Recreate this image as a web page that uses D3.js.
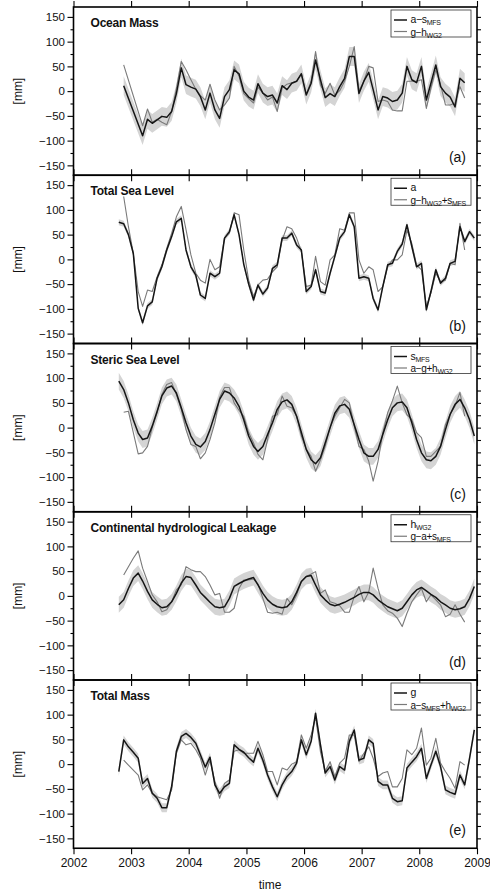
<!DOCTYPE html>
<html><head><meta charset="utf-8">
<script src="https://cdnjs.cloudflare.com/ajax/libs/d3/7.8.5/d3.min.js"></script>
<style>
body{margin:0;background:#fff}
svg{display:block}
text{font-family:"Liberation Sans",Arial,Helvetica,sans-serif;fill:#111}
</style>
</head><body><svg id="c" width="490" height="896"></svg>
<script>
// ---------- DATA ----------
const months = ["2002-10","2002-11","2002-12",
"2003-01","2003-02","2003-03","2003-04","2003-05","2003-06","2003-07","2003-08","2003-09","2003-10","2003-11","2003-12",
"2004-01","2004-02","2004-03","2004-04","2004-05","2004-06","2004-07","2004-08","2004-09","2004-10","2004-11","2004-12",
"2005-01","2005-02","2005-03","2005-04","2005-05","2005-06","2005-07","2005-08","2005-09","2005-10","2005-11","2005-12",
"2006-01","2006-02","2006-03","2006-04","2006-05","2006-06","2006-07","2006-08","2006-09","2006-10","2006-11","2006-12",
"2007-01","2007-02","2007-03","2007-04","2007-05","2007-06","2007-07","2007-08","2007-09","2007-10","2007-11","2007-12",
"2008-01","2008-02","2008-03","2008-04","2008-05","2008-06","2008-07","2008-08","2008-09","2008-10","2008-11","2008-12"];

// (a) Ocean Mass
const oceanA = [null,11,null,
 null,null,-90,-57,-65,-58,-51,-53,-41,-5,47,13,
 8,4,-11,-38,-4,-38,-55,-11,3,43,35,0,
 -12,-18,15,-4,-11,-8,-24,11,3,16,20,35,
 -8,16,63,23,-13,-5,-11,9,26,70,70,-5,
 20,38,3,-38,-11,-14,-21,-18,-4,50,23,17,
 50,-18,16,53,9,-4,-12,-32,26,17,null,null];
const oceanB = [null,53,null,
 null,null,-70,-36,-63,-57,-63,-68,-41,5,60,43,
 23,4,-9,-18,14,-18,-38,-28,-14,50,30,-5,
 -15,-24,8,-4,-18,-12,-41,6,14,17,20,36,
 -6,20,80,12,-5,16,-8,1,20,50,90,1,
 20,50,47,-21,-18,-21,-38,-40,-40,20,20,20,
 23,-35,6,43,13,-28,-28,-24,9,-14,null,null];
// (b) Total Sea Level
const seaA = [75,72,50,
 12,-99,-128,-94,-86,-38,-15,19,46,76,83,19,
 -15,-32,-72,-79,-28,-35,-28,43,56,90,50,-10,
 -50,-82,-52,-70,-58,-18,-11,43,43,53,29,19,
 -65,-55,-21,-65,-68,-28,6,43,56,90,66,-38,
 -35,-38,-79,-102,-55,-11,-8,16,31,70,26,-15,
 -8,-102,-65,-21,-48,-38,-8,-4,66,36,56,43];
const seaB = [null,127,66,
 12,-65,-95,-62,-65,-35,-11,22,53,86,107,60,
 9,-28,-42,-48,0,-21,-15,43,53,94,90,19,
 -42,-75,-52,-42,-40,-25,-15,39,66,62,43,16,
 -55,-52,6,-45,-52,-1,9,62,59,94,94,-1,
 -28,-15,-21,-65,-55,-15,-1,-1,9,59,32,-11,
 -21,-95,-68,-28,-45,-42,-8,-11,73,19,null,null];
// (c) Steric Sea Level
const stericA = [94,77,50,
 16,-11,-24,-21,3,33,64,80,84,70,40,10,
 -17,-34,-39,-28,-4,27,57,74,70,60,43,16,
 -17,-38,-48,-38,-14,10,37,52,56,47,23,-10,
 -44,-65,-73,-61,-31,0,29,44,47,37,6,-24,
 -51,-58,-58,-44,-14,16,40,50,52,40,10,-24,
 -51,-65,-67,-58,-38,-4,27,47,57,40,16,-17];
const stericB = [null,31,33,
 -10,-53,-51,-38,0,30,67,87,91,67,37,-4,
 -34,-38,-63,-51,-24,10,61,81,81,50,35,23,
 -10,-31,-54,-65,-24,23,26,64,43,40,23,-17,
 -44,-58,-88,-65,-38,0,23,40,57,50,3,-38,
 -44,-68,-108,-68,-10,30,54,84,50,26,16,-10,
 -20,-58,-58,-48,-38,6,27,44,71,23,null,null];
// (d) Continental hydrological Leakage
const hydroA = [-18,-8,15,
 36,46,30,9,-8,-17,-24,-22,-12,5,26,39,
 37,22,7,-3,-13,-22,-24,-22,-5,19,25,30,
 34,37,22,5,-8,-17,-22,-24,-22,-12,7,29,
 39,41,22,2,-8,-17,-20,-17,-13,-8,-3,3,
 7,7,2,-8,-15,-22,-26,-30,-25,-12,2,12,
 17,10,3,-3,-12,-18,-25,-28,-26,-22,-5,19];
const hydroB = [null,42,59,
 76,91,56,29,2,-12,-32,-28,-12,12,22,59,
 53,49,49,39,22,2,5,-33,-33,-25,15,32,
 32,34,24,-5,-33,-35,-33,-37,-5,-18,2,29,
 39,44,49,5,12,-12,-15,-20,-33,-33,-1,19,
 -12,8,56,15,-18,-30,-35,-45,-62,-35,-12,2,
 15,-12,2,-8,-18,-42,-37,-18,-37,-53,null,null];
// (e) Total Mass
const massA = [-15,49,35,
 24,12,-39,-29,-59,-69,-88,-88,-45,26,56,62,
 54,42,19,-6,14,-42,-59,-46,-39,39,30,24,
 13,4,32,8,-22,-46,-66,-42,-25,-15,2,49,
 19,46,103,39,-18,-5,-32,-5,-12,46,69,8,
 12,49,42,-35,-42,-42,-69,-76,-74,-8,4,15,
 32,-29,-2,26,-5,-52,-57,-61,-22,-42,12,69];
const massB = [null,8,-2,
 -12,-22,-52,-42,-59,-66,-69,-72,-52,22,49,39,
 42,29,12,-22,8,-35,-69,-39,-32,26,29,22,
 22,22,46,19,-15,-15,-42,-8,-12,0,5,59,
 32,59,95,25,-15,5,-25,2,12,59,59,5,
 22,35,12,-25,-18,-15,-46,-46,-29,29,19,32,
 73,-2,12,52,2,-15,-29,-49,5,-2,null,null];

const bandHalfWidth = [19, 6, 17, 16, 9];
const panelTitles = ["Ocean Mass","Total Sea Level","Steric Sea Level","Continental hydrological Leakage","Total Mass"];
const panelLetters = ["(a)","(b)","(c)","(d)","(e)"];
const legendBlack = ["a\u2212s_{MFS}","a","s_{MFS}","h_{WG2}","g"];
const legendGray = ["g\u2212h_{WG2}","g\u2212h_{WG2}+s_{MFS}","a\u2212g+h_{WG2}","g\u2212a+s_{MFS}","a\u2212s_{MFS}+h_{WG2}"];
const yearTicks = [2002,2003,2004,2005,2006,2007,2008,2009];
const yMajor = [-150,-100,-50,0,50,100,150];
const yMinor = [-125,-75,-25,25,75,125];
const yRight = [-150,-125,-100,-75,-50,-25,0,25,50,75,100,125,150];

const seriesA = [oceanA, seaA, stericA, hydroA, massA];
const seriesB = [oceanB, seaB, stericB, hydroB, massB];

// ---------- LAYOUT ----------
const svg = d3.select("#c");
const L = 73.5, R = 477, T0 = 7, PH = 168.25;
const dates = months.map(s => { const [y,m] = s.split("-").map(Number); return new Date(y, m-1, 15); });
const x = d3.scaleTime().domain([new Date(2002,0,1), new Date(2009,0,1)]).range([L, R]);
const yearDates = yearTicks.map(y => new Date(y,0,1));
const fmt = d => d < 0 ? "\u2212" + Math.abs(d) : String(d);

svg.append("defs").append("clipPath").attr("id","clip")
  .append("rect").attr("x", L).attr("y", T0).attr("width", R-L).attr("height", PH*5);

function addRich(sel, str, fs, sfs, shift) {
  const parts = str.split(/_\{([^}]*)\}/);
  parts.forEach((p, i) => {
    if (p === "") return;
    const isSub = i % 2 === 1;
    const t = sel.append("tspan").text(p).attr("font-size", isSub ? sfs : fs);
    if (isSub) t.attr("dy", shift);
    else if (i > 0) t.attr("dy", -shift);
  });
}

for (let k = 0; k < 5; k++) {
  const top = T0 + k*PH, bot = top + PH;
  const y = d3.scaleLinear().domain([-170,170]).range([bot, top]);
  const g = svg.append("g");
  const A = seriesA[k], B = seriesB[k], s = bandHalfWidth[k];
  const ptsA = dates.map((d,i)=>({d, v:A[i]})).filter(p => p.v !== null);
  const ptsB = dates.map((d,i)=>({d, v:B[i]})).filter(p => p.v !== null);
  const clipG = g.append("g").attr("clip-path","url(#clip)");
  clipG.append("path").datum(ptsA)
    .attr("d", d3.area().x(p=>x(p.d)).y0(p=>y(p.v - s)).y1(p=>y(p.v + s)))
    .attr("fill","#d4d4d4");
  clipG.append("path").datum(ptsB)
    .attr("d", d3.line().x(p=>x(p.d)).y(p=>y(p.v)))
    .attr("fill","none").attr("stroke","#7a7a7a").attr("stroke-width",1.1).attr("stroke-linejoin","round");
  clipG.append("path").datum(ptsA)
    .attr("d", d3.line().x(p=>x(p.d)).y(p=>y(p.v)))
    .attr("fill","none").attr("stroke","#151515").attr("stroke-width",1.5).attr("stroke-linejoin","round");

  // axes
  const ax = (sel) => { sel.select(".domain").remove(); sel.selectAll("line").attr("stroke","#000").attr("stroke-width",1.1); sel.selectAll("text").attr("font-size","11.5px").attr("font-family",'"Liberation Sans",Arial,sans-serif').attr("fill","#111"); };
  g.append("g").attr("transform",`translate(${L},0)`)
    .call(d3.axisLeft(y).tickValues(yMajor).tickSize(6).tickPadding(2.5).tickFormat(fmt)).call(ax);
  g.append("g").attr("transform",`translate(${L},0)`)
    .call(d3.axisLeft(y).tickValues(yMinor).tickSize(3).tickFormat("")).call(ax);
  g.append("g").attr("transform",`translate(${R},0)`)
    .call(d3.axisRight(y).tickValues(yRight).tickSize(4).tickFormat("")).call(ax);
  g.append("g").attr("transform",`translate(0,${top})`)
    .call(d3.axisTop(x).tickValues(yearDates).tickSize(6).tickFormat("")).call(ax);
  const bx = g.append("g").attr("transform",`translate(0,${bot})`)
    .call(d3.axisBottom(x).tickValues(yearDates).tickSize(6).tickPadding(4)
      .tickFormat(k === 4 ? d3.timeFormat("%Y") : "")).call(ax);
  bx.selectAll("text").attr("font-size","12px");

  // frame
  g.append("rect").attr("x",L).attr("y",top).attr("width",R-L).attr("height",PH)
    .attr("fill","none").attr("stroke","#000").attr("stroke-width",1.6);

  // y label
  g.append("text").attr("transform",`translate(22,${(top+bot)/2}) rotate(-90)`)
    .attr("text-anchor","middle").attr("font-size","12px").text("[mm]");

  // title
  g.append("text").attr("x",90.5).attr("y",top+20).attr("font-size","12px")
    .attr("font-weight","bold").attr("letter-spacing","-0.2px").text(panelTitles[k]);

  // panel letter
  g.append("text").attr("x",466).attr("y",bot-13).attr("text-anchor","end")
    .attr("font-size","14px").text(panelLetters[k]);

  // legend
  const lg = g.append("g");
  lg.append("rect").attr("x",391).attr("y",top+3).attr("width",80).attr("height",27)
    .attr("fill","#fff").attr("stroke","#333").attr("stroke-width",0.8);
  lg.append("line").attr("x1",394).attr("x2",407).attr("y1",top+13).attr("y2",top+13)
    .attr("stroke","#151515").attr("stroke-width",1.5);
  lg.append("line").attr("x1",394).attr("x2",407).attr("y1",top+24.5).attr("y2",top+24.5)
    .attr("stroke","#7a7a7a").attr("stroke-width",1.2);
  addRich(lg.append("text").attr("x",410.5).attr("y",top+16).attr("letter-spacing","-0.3px"), legendBlack[k], "10.5px", "7px", 2);
  addRich(lg.append("text").attr("x",410.5).attr("y",top+28.5).attr("letter-spacing","-0.3px"), legendGray[k], "10px", "7px", 2);
}

svg.append("text").attr("x",270).attr("y",889).attr("text-anchor","middle")
  .attr("font-size","12px").text("time");
</script></body></html>
